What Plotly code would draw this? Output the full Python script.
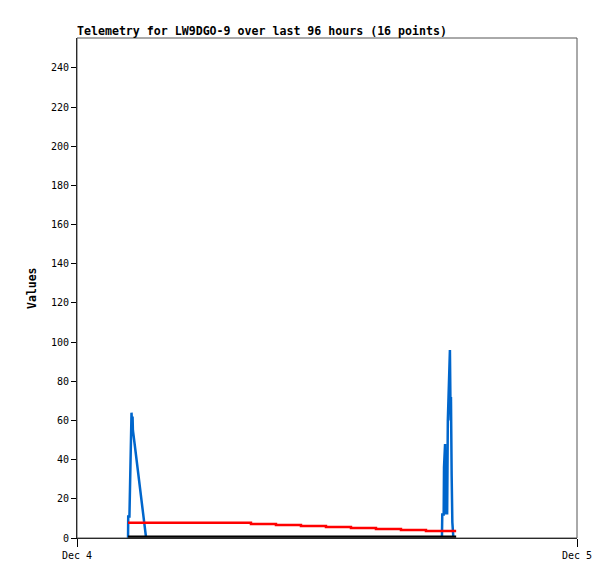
import plotly.graph_objects as go

# ---- data ----
title_text = "Telemetry for LW9DGO-9 over last 96 hours (16 points)"
y_label = "Values"
x_tick_vals = ["2023-12-04 00:00", "2023-12-05 00:00"]
x_tick_text = ["Dec 4", "Dec 5"]
y_tick_vals = [0, 20, 40, 60, 80, 100, 120, 140, 160, 180, 200, 220, 240]

blue_times = [
    "2023-12-04 02:27:00", "2023-12-04 02:27:30", "2023-12-04 02:31:00", "2023-12-04 02:33:00",
    "2023-12-04 02:35:00", "2023-12-04 02:37:00", "2023-12-04 02:39:00", "2023-12-04 02:40:00",
    "2023-12-04 02:41:00", "2023-12-04 02:46:00", "2023-12-04 02:50:00", "2023-12-04 02:54:00",
    "2023-12-04 02:59:00", "2023-12-04 03:03:00", "2023-12-04 03:07:00", "2023-12-04 03:12:00",
    "2023-12-04 03:16:00", "2023-12-04 03:19:00",
    None,
    "2023-12-04 17:31:00", "2023-12-04 17:32:00", "2023-12-04 17:36:00", "2023-12-04 17:37:00",
    "2023-12-04 17:40:00", "2023-12-04 17:41:00", "2023-12-04 17:44:00", "2023-12-04 17:46:00",
    "2023-12-04 17:48:00", "2023-12-04 17:51:00", "2023-12-04 17:54:00", "2023-12-04 17:56:00",
    "2023-12-04 17:57:00", "2023-12-04 17:59:00", "2023-12-04 18:01:00", "2023-12-04 18:04:00",
]
blue_values = [
    0, 11, 11, 32,
    55, 64, 56, 62,
    55, 48, 42, 36,
    30, 24, 18, 12,
    6, 0,
    None,
    0, 12, 12, 36,
    48, 12, 36, 12,
    60, 84, 96, 60,
    72, 32, 8, 0,
]

red_times = [
    "2023-12-04 02:27", "2023-12-04 08:21", "2023-12-04 09:33", "2023-12-04 10:45",
    "2023-12-04 11:57", "2023-12-04 13:09", "2023-12-04 14:21", "2023-12-04 15:33",
    "2023-12-04 16:45", "2023-12-04 18:12",
]
red_values = [7.8, 7.15, 6.6, 6.1, 5.6, 5.1, 4.6, 4.1, 3.6, 3.6]

black_times = ["2023-12-04 02:27", "2023-12-04 18:12"]
black_values = [0, 0]

mono = "DejaVu Sans Mono"

fig = go.Figure()
fig.add_trace(go.Scatter(x=blue_times, y=blue_values, mode="lines",
                         line=dict(color="#0066CC", width=2.5), connectgaps=False,
                         hoverinfo="skip"))
fig.add_trace(go.Scatter(x=red_times, y=red_values, mode="lines",
                         line=dict(color="#FF0000", width=2.5, shape="hv"),
                         hoverinfo="skip"))
fig.add_trace(go.Scatter(x=black_times, y=black_values, mode="lines",
                         line=dict(color="#000000", width=5),
                         hoverinfo="skip"))

# page body has an 8px margin, so the figure is 607x571 placed at (8,8)
fig.update_layout(
    width=607, height=571,
    margin=dict(l=69, r=38, t=30, b=41, pad=0),
    paper_bgcolor="white", plot_bgcolor="white",
    showlegend=False,
    font=dict(family=mono, size=10, color="black"),
    title=dict(text=title_text, x=0, xanchor="left", xref="paper",
               y=1 - 23/571, yanchor="middle", yref="container",
               font=dict(family=mono, size=11.6, color="black", weight="bold")),
)

fig.update_xaxes(
    type="date",
    range=[x_tick_vals[0], x_tick_vals[1]],
    tickmode="array", tickvals=x_tick_vals, ticktext=x_tick_text,
    showgrid=False, zeroline=False,
    showline=True, linecolor="black", linewidth=1,
    ticks="outside", ticklen=8, tickcolor="black",
    tickfont=dict(family=mono, size=10, color="black"),
)
fig.update_yaxes(
    range=[0, 255.3],
    tickmode="array", tickvals=y_tick_vals,
    showgrid=False, zeroline=False,
    showline=True, linecolor="black", linewidth=1,
    ticks="outside", ticklen=5, tickcolor="black",
    tickfont=dict(family=mono, size=10, color="black"),
)

# frame (top/right border)
fig.add_shape(type="rect", xref="paper", yref="paper", x0=0, x1=1, y0=0, y1=1,
              line=dict(color="#555555", width=1), fillcolor="rgba(0,0,0,0)", layer="above")

fig.add_annotation(text=y_label, xref="paper", yref="paper",
                   x=(32 - 77) / 500, y=0.5, xanchor="center", yanchor="middle",
                   textangle=-90, showarrow=False,
                   font=dict(family=mono, size=11.5, color="black", weight="bold"))

fig.write_html("out.html")
